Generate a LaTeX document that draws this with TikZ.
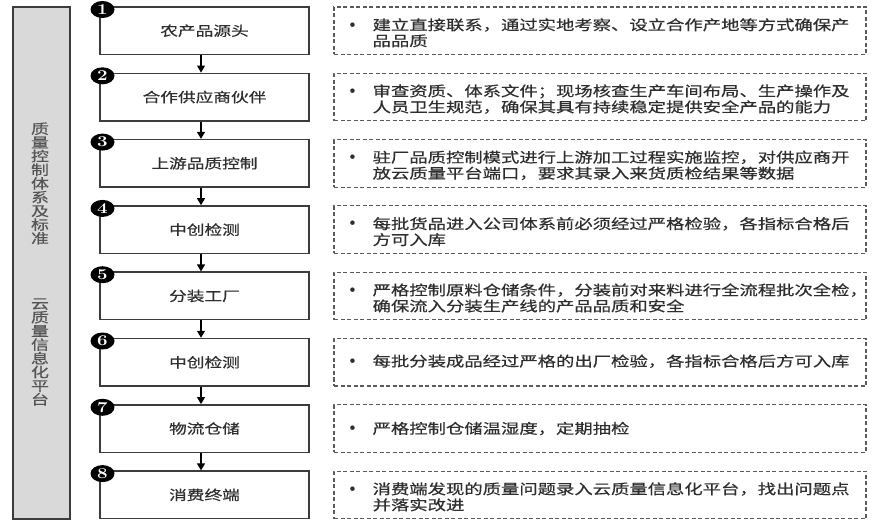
\documentclass[tikz,border=0pt]{standalone}
\usepackage{fontspec}
\usepackage{graphicx}
\newfontfamily\cjk[FakeBold=0.4]{Noto Sans CJK SC}
\usetikzlibrary{arrows.meta,shapes.geometric,calc}
\definecolor{boxline}{HTML}{3C3C3C}
\definecolor{dashline}{HTML}{5A5A5A}
\definecolor{txt}{HTML}{2E2E2E}
\definecolor{bartxt}{HTML}{555555}
\definecolor{barfill}{HTML}{D9D9D9}
\newcommand{\wx}[1]{\scalebox{1.31}[1]{#1}}
\begin{document}
\begin{tikzpicture}[x=1pt,y=-1pt,
  mainbox/.style={draw=boxline, line width=1.5pt, minimum width=209pt, minimum height=47.5pt, inner sep=0pt, font=\cjk\fontsize{13.5}{13.5}\selectfont, text=txt},
  dashbox/.style={draw=dashline, line width=1.1pt, dash pattern=on 4pt off 2.5pt, minimum width=532pt, minimum height=47.5pt, inner sep=0pt},
  numdot/.style={shape=ellipse, fill=black, minimum width=24pt, minimum height=17pt, inner sep=0pt, text=white, font=\fontsize{15}{15}\bfseries\selectfont},
  desc/.style={anchor=west, align=left, inner sep=0pt, text=txt, font=\cjk\fontsize{14}{16}\selectfont},
  bul/.style={inner sep=0pt, text=txt, font=\fontsize{20}{20}\selectfont},
  bartext/.style={align=center, inner sep=0pt, text=bartxt, font=\cjk\fontsize{13.7}{13.7}\selectfont},
  flow/.style={draw=black, line width=1.2pt, -{Triangle[width=8pt,length=7pt]}}
]
\useasboundingbox[fill=white] (0,0) rectangle (876,524);

% left bar
\node[draw=boxline, fill=barfill, line width=1.5pt, minimum width=57pt, minimum height=512pt, inner sep=0pt] (bar) at (41.5,263) {};
\node[bartext] (bart1) at (40,183.5) {\wx{质}\\\wx{量}\\\wx{控}\\\wx{制}\\\wx{体}\\\wx{系}\\\wx{及}\\\wx{标}\\\wx{准}};
\node[bartext] (bart2) at (40,352) {\wx{云}\\\wx{质}\\\wx{量}\\\wx{信}\\\wx{息}\\\wx{化}\\\wx{平}\\\wx{台}};

% main boxes, numbers and dashed boxes
\foreach \i/\lab in {1/农产品源头,2/合作供应商伙伴,3/上游品质控制,4/中创检测,5/分装工厂,6/中创检测,7/物流仓储,8/消费终端}{
  \pgfmathsetmacro\yy{30.75+66.3*(\i-1)}
  \pgfmathsetmacro\yt{9.5+66.3*(\i-1)}
  \node[mainbox] (m\i) at (204.5,\yy) {\wx{\lab}};
  \node[numdot] (n\i) at (102.5,\yt) {\scalebox{1.25}[1]{\i}};
  \node[dashbox] (d\i) at (600,\yy) {};
}

% arrows
\foreach \i/\j in {1/2,2/3,3/4,4/5,5/6,6/7,7/8}{
  \draw[flow] ($(m\i.south)+(-3.5,0)$) -- ($(m\j.north)+(-3.5,0)$);
}

% descriptions
\node[bul] (b1) at ($(d1.west)+(19,-4.5)$) {•};
\node[desc] (t1) at ($(d1.west)+(39,2)$) {\wx{建立直接联系，通过实地考察、设立合作产地等方式确保产}\\\wx{品品质}};
\node[bul] (b2) at ($(d2.west)+(19,-4.5)$) {•};
\node[desc] (t2) at ($(d2.west)+(39,2)$) {\wx{审查资质、体系文件；现场核查生产车间布局、生产操作及}\\\wx{人员卫生规范，确保其具有持续稳定提供安全产品的能力}};
\node[bul] (b3) at ($(d3.west)+(19,-4.5)$) {•};
\node[desc] (t3) at ($(d3.west)+(39,2)$) {\wx{驻厂品质控制模式进行上游加工过程实施监控，对供应商开}\\\wx{放云质量平台端口，要求其录入来货质检结果等数据}};
\node[bul] (b4) at ($(d4.west)+(19,-4.5)$) {•};
\node[desc] (t4) at ($(d4.west)+(39,2)$) {\wx{每批货品进入公司体系前必须经过严格检验，各指标合格后}\\\wx{方可入库}};
\node[bul] (b5) at ($(d5.west)+(19,-4.5)$) {•};
\node[desc] (t5) at ($(d5.west)+(39,2)$) {\wx{严格控制原料仓储条件，分装前对来料进行全流程批次全检，}\\\wx{确保流入分装生产线的产品品质和安全}};
\node[bul] (b6) at ($(d6.west)+(19,0.5)$) {•};
\node[desc] (t6) at ($(d6.west)+(39,-1)$) {\wx{每批分装成品经过严格的出厂检验，各指标合格后方可入库}};
\node[bul] (b7) at ($(d7.west)+(19,1.5)$) {•};
\node[desc] (t7) at ($(d7.west)+(39,0)$) {\wx{严格控制仓储温湿度，定期抽检}};
\node[bul] (b8) at ($(d8.west)+(19,-4.5)$) {•};
\node[desc] (t8) at ($(d8.west)+(39,2)$) {\wx{消费端发现的质量问题录入云质量信息化平台，找出问题点}\\\wx{并落实改进}};
\end{tikzpicture}
\end{document}
